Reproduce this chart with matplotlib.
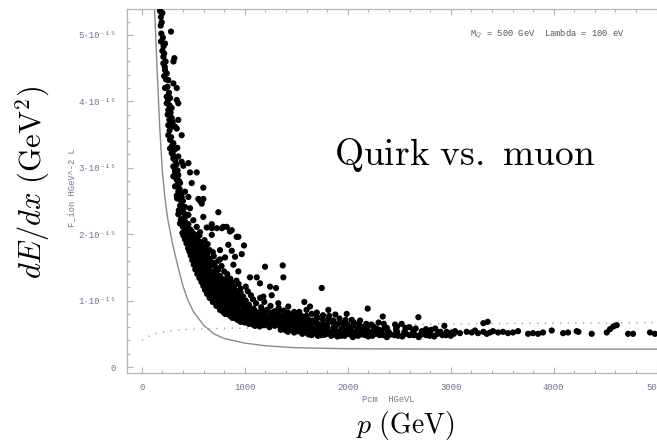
import matplotlib
matplotlib.use("Agg")
import matplotlib.pyplot as plt
from matplotlib.ticker import FixedLocator, MultipleLocator

plt.rcParams['mathtext.fontset'] = 'cm'

# ---------------- data (p in GeV, dE/dx in units of 1e-15 GeV^2) ----------------
quirk_top = [(178,5.36),(200,5.33),(186,5.27),(194,5.19),(184,5.14),(284,5.05),(190,5.02),(205,4.96),
    (187,4.9),(226,4.87),(212,4.83),(200,4.76),(218,4.72),(210,4.67),(317,4.65),(308,4.6),(210,4.57),
    (224,4.52),(232,4.6),(226,4.47),(243,4.42),(218,4.38),(236,4.33),(258,4.32),(307,4.27),(250,4.22),
    (340,4.2),(226,4.2),(265,4.13),(243,4.07),(275,4.05),(255,4.02),(340,4.02),(243,3.97),(355,3.97),
    (270,3.94),(290,3.9),(258,3.87),(280,3.83),(252,3.8),(291,3.75),(268,3.72),(355,3.72),(300,3.69),
    (258,3.64),(323,3.62),(280,3.62)]

quirk_upper = [(291,3.62),(340,3.59),(270,3.56),(388,3.49),(258,3.49),(285,3.46),(275,3.42),(307,3.37),
    (295,3.33),(346,3.3),(275,3.29),(318,3.27),(291,3.22),(305,3.19),(355,3.17),(307,3.14),(325,3.11),
    (388,3.09),(453,3.07),(338,3.05),(404,3.03),(307,3.02),(322,2.98),(348,2.96),(323,2.94),(469,2.93),
    (534,2.93),(355,2.89),(307,2.87),(335,2.85),(340,2.82),(362,2.8),(372,2.77),(485,2.77),(345,2.74),
    (323,2.72),(598,2.7),(368,2.68),(420,2.64),(355,2.64),(385,2.61),(340,2.58),(343,2.54),(388,2.56),
    (453,2.56),(370,2.52),(550,2.53),(598,2.53),(400,2.5),(566,2.5),(583,2.46),(372,2.43),(420,2.41),
    (388,2.42),(469,2.39),(360,2.36),(388,2.34),(410,2.32),(355,2.3),(744,2.33),(453,2.29),(430,2.27),
    (598,2.26),(404,2.24),(380,2.22),(501,2.21),(420,2.19),(372,2.16),(453,2.15),(680,2.15),(440,2.13),
    (534,2.11),(400,2.11),(631,2.1),(728,2.09),(793,2.11),(420,2.06),(470,2.07),(485,2.04),(874,2.06),
    (566,2.03),(395,2.02),(445,2.01),(510,2.0)]

quirk_mid = [(405,1.98),(430,1.97),(455,1.99),(480,1.96),(505,1.97),(530,1.95),(560,1.98),
    (420,1.92),(445,1.9),(470,1.91),(495,1.89),(520,1.92),(548,1.9),(575,1.88),(610,1.91),
    (435,1.86),(460,1.84),(485,1.85),(512,1.83),(540,1.86),(565,1.84),(600,1.82),(640,1.85),
    (450,1.79),(475,1.8),(500,1.78),(528,1.79),(555,1.77),(585,1.8),(620,1.78),(660,1.76),
    (462,1.74),(488,1.72),(515,1.73),(542,1.71),(570,1.74),(600,1.72),(635,1.7),(690,1.73),
    (475,1.68),(500,1.66),(528,1.67),(556,1.65),(585,1.68),(615,1.66),(650,1.64),(700,1.67),(760,1.62),
    (490,1.61),(515,1.59),(540,1.6),(568,1.58),(597,1.61),(628,1.59),(665,1.6),(710,1.57),(745,1.6),
    (505,1.54),(530,1.52),(555,1.53),(582,1.51),(612,1.54),(645,1.52),(680,1.53),(720,1.5),(775,1.52),
    (520,1.47),(545,1.45),(572,1.46),(600,1.44),(630,1.47),(662,1.45),(698,1.43),(740,1.46),(800,1.44),
    (540,1.4),(565,1.41),(592,1.39),(620,1.4),(650,1.38),(685,1.41),(720,1.39),(760,1.37),(830,1.4)]

quirk_knee = [(560,1.34),(585,1.33),(612,1.35),(640,1.32),(668,1.34),(700,1.33),(735,1.31),(770,1.34),
    (810,1.32),(860,1.33),(920,1.3),
    (580,1.28),(605,1.27),(632,1.29),(660,1.26),(690,1.28),(722,1.27),(755,1.25),(790,1.28),(830,1.26),
    (875,1.27),(940,1.25),
    (598,1.22),(622,1.21),(650,1.23),(678,1.2),(708,1.22),(740,1.21),(775,1.19),(812,1.22),(850,1.2),
    (895,1.21),(960,1.18),(1010,1.21),
    (615,1.16),(640,1.15),(668,1.17),(696,1.14),(726,1.16),(758,1.15),(792,1.13),(828,1.16),(868,1.14),
    (910,1.15),(960,1.12),(1030,1.14),
    (635,1.1),(662,1.09),(690,1.11),(718,1.08),(748,1.1),(780,1.09),(815,1.07),(850,1.1),(890,1.08),
    (935,1.09),(985,1.06),(1060,1.08),
    (660,1.04),(688,1.03),(715,1.05),(745,1.02),(775,1.04),(808,1.03),(842,1.01),(878,1.04),(918,1.02),
    (962,1.03),(1010,1.0),(1080,1.02),(1150,1.04),
    (690,0.98),(718,0.97),(746,0.99),(775,0.96),(806,0.98),(838,0.97),(872,0.95),(908,0.98),(948,0.96),
    (992,0.97),(1040,0.94),(1110,0.96),(1190,0.98),
    (725,0.92),(752,0.91),(780,0.93),(810,0.9),(842,0.92),(875,0.91),(910,0.89),(948,0.92),(990,0.9),
    (1035,0.91),(1085,0.88),(1160,0.9),(1250,0.92),(1330,0.89)]

quirk_low = [(760,0.86),(790,0.85),(820,0.87),(852,0.84),(885,0.86),(920,0.85),(958,0.83),(1000,0.86),
    (1045,0.84),(1095,0.85),(1150,0.83),(1215,0.86),(1290,0.84),(1380,0.85),(1480,0.83),(1600,0.86),
    (790,0.83),(835,0.82),(880,0.83),(930,0.82),(980,0.83),(1030,0.82),(1080,0.83),(1130,0.82),
    (1190,0.83),(1250,0.82),(1330,0.83),(1420,0.82),(1530,0.83),(1700,0.82),
    (810,0.8),(842,0.79),(875,0.81),(910,0.78),(948,0.8),(988,0.79),(1030,0.77),(1075,0.8),(1125,0.78),
    (1180,0.79),(1240,0.77),(1305,0.8),(1380,0.78),(1460,0.79),(1550,0.77),(1650,0.8),(1760,0.78),(1880,0.79),
    (860,0.77),(900,0.76),(945,0.77),(990,0.76),(1040,0.77),(1095,0.76),(1150,0.77),(1205,0.76),
    (1270,0.77),(1340,0.76),(1420,0.77),(1500,0.76),(1600,0.77),(1700,0.76),(1820,0.77),
    (880,0.74),(915,0.73),(952,0.75),(990,0.72),(1030,0.74),(1072,0.73),(1118,0.71),(1165,0.74),(1215,0.72),
    (1270,0.73),(1330,0.71),(1395,0.74),(1465,0.72),(1540,0.73),(1620,0.71),(1710,0.74),(1810,0.72),
    (1920,0.73),(2040,0.71),
    (930,0.71),(975,0.7),(1015,0.71),(1060,0.7),(1100,0.71),(1145,0.7),(1190,0.71),(1245,0.7),
    (1300,0.71),(1360,0.7),(1430,0.71),(1500,0.7),(1580,0.71),(1660,0.7),(1760,0.71),(1860,0.7),
    (1980,0.71),(2120,0.7),
    (960,0.68),(1000,0.67),(1042,0.69),(1085,0.66),(1130,0.68),(1178,0.67),(1228,0.65),(1280,0.68),
    (1335,0.66),(1395,0.67),(1460,0.65),(1530,0.68),(1600,0.66),(1680,0.67),(1760,0.65),(1850,0.68),
    (1950,0.66),(2060,0.67),(2180,0.65),(2300,0.67),
    (1040,0.65),(1080,0.64),(1120,0.65),(1165,0.64),(1210,0.65),(1258,0.64),(1310,0.65),(1365,0.64),
    (1425,0.65),(1490,0.64),(1560,0.65),(1630,0.64),(1710,0.65),(1800,0.64),(1900,0.65),(2000,0.64),
    (2110,0.65),(2230,0.64),(2350,0.65),(2460,0.64),
    (1100,0.62),(1145,0.61),(1192,0.63),(1240,0.6),(1292,0.62),(1345,0.61),(1400,0.59),(1460,0.62),
    (1522,0.6),(1588,0.61),(1655,0.59),(1725,0.62),(1800,0.6),(1880,0.61),(1965,0.59),(2055,0.62),
    (2150,0.6),(2250,0.61),(2360,0.59),(2480,0.61),(2600,0.6)]

quirk_floor = [(1500,0.585),(1560,0.59),(1620,0.58),(1700,0.59),(1780,0.58),(1860,0.59),(1940,0.58),
    (2020,0.59),(2100,0.58),(2190,0.59),(2280,0.58),(2380,0.59),(2470,0.58),(2560,0.59),(2660,0.58),
    (2760,0.57),(2850,0.58),
    (1350,0.56),(1400,0.55),(1455,0.57),(1510,0.54),(1568,0.56),(1625,0.55),(1685,0.53),
    (1748,0.56),(1812,0.54),(1878,0.55),(1945,0.53),(2015,0.56),(2088,0.54),(2160,0.55),(2235,0.53),
    (2310,0.56),(2390,0.54),(2470,0.55),(2550,0.53),(2635,0.55),(2720,0.54),(2810,0.56),(2900,0.53),
    (1420,0.53),(1480,0.52),(1540,0.53),(1600,0.52),(1655,0.53),(1715,0.52),(1775,0.53),(1840,0.52),
    (1905,0.53),(1975,0.52),(2045,0.53),(2120,0.52),(2190,0.53),(2260,0.52),(2330,0.53),(2400,0.52),
    (2480,0.53),(2560,0.52),(2640,0.53),(2720,0.52),(2800,0.53),(2880,0.52),(2960,0.53),
    (1560,0.5),(1620,0.49),(1680,0.51),(1742,0.48),(1805,0.5),(1870,0.49),(1935,0.47),(2000,0.5),
    (2068,0.48),(2135,0.49),(2205,0.47),(2275,0.5),(2345,0.48),(2418,0.49),(2490,0.47),(2565,0.5),
    (2640,0.48),(2715,0.49),(2795,0.47),(2875,0.5),(2955,0.48),(3030,0.5),
    (1650,0.48),(1710,0.47),(1775,0.485),(1840,0.47),(1905,0.48),(1970,0.47),(2035,0.48),(2100,0.47),
    (2170,0.48),(2240,0.47),(2310,0.48),(2385,0.47),(2455,0.48),(2530,0.47),(2600,0.48),(2680,0.47),
    (2760,0.48),(2840,0.47),(2920,0.48),(3000,0.47),
    (1900,0.46),(2050,0.45),(2200,0.46),(2380,0.45),(2530,0.46),(2690,0.45),(2840,0.46)]

quirk_tail = [(3010,0.52),(3042,0.54),(3090,0.51),(3155,0.53),(3204,0.52),(3236,0.55),(3265,0.51),
    (3317,0.53),(3350,0.5),(3382,0.52),(3411,0.54),(3460,0.52),(3508,0.53),(3556,0.51),(3605,0.52),
    (3654,0.54),(3751,0.5),(3799,0.51),(3848,0.5),(3896,0.52),(3981,0.55),(4091,0.51),(4139,0.52),
    (4223,0.54),(4240,0.53),(4369,0.5),(4515,0.52),(4547,0.57),(4579,0.61),(4612,0.63),(4722,0.5),
    (4770,0.5),(4935,0.52),(4983,0.5)]

quirk_outliers = [(680,2.09),(777,2.09),(857,2.04),(938,1.96),(680,1.99),(841,1.84),(993,1.83),
    (760,1.76),(874,1.75),(971,1.7),(809,1.65),(906,1.66),(890,1.54),(938,1.44),(1051,1.35),(1117,1.35),
    (1148,1.26),(1246,1.21),(1304,1.19),(1262,1.08),(1181,1.06),(1326,0.96),(1423,0.91),(1197,1.51),
    (1369,1.53),(1375,1.35),(1748,1.19),(1579,0.98),(1634,0.91),(2194,0.88),(2340,0.76),(2686,0.75),
    (1990,0.8),(1812,0.86),(2938,0.62),(2524,0.65),(3317,0.66),(3359,0.68),(922,1.96),(825,2.11)]

# solid curve (lower bound) and dotted curve (muon)
curve_p = [118, 130, 150, 175, 200, 225, 250, 300, 350, 400, 450, 500, 600, 700, 800, 1000,
           1200, 1500, 2000, 3000, 4000, 5100]
curve_y = [5.6, 5.2, 4.45, 3.6, 2.95, 2.55, 2.25, 1.85, 1.52, 1.22, 1.0, 0.84, 0.63, 0.5, 0.43, 0.36,
           0.32, 0.29, 0.275, 0.27, 0.27, 0.27]
muon_p = [3, 50, 146, 250, 372, 500, 728, 1000, 1180, 1500, 2000, 2500, 3000, 4000, 5100]
muon_y = [0.40, 0.45, 0.51, 0.54, 0.56, 0.57, 0.58, 0.585, 0.59, 0.61, 0.63, 0.64, 0.65, 0.66, 0.67]

x_ticks = [0, 1000, 2000, 3000, 4000, 5000]
y_ticks = [0, 1, 2, 3, 4, 5]
y_tick_labels = ["0", "1·10⁻¹⁵", "2·10⁻¹⁵", "3·10⁻¹⁵", "4·10⁻¹⁵", "5·10⁻¹⁵"]

# ---------------- figure ----------------
W, H = 657, 443
fig = plt.figure(figsize=(W / 100, H / 100), dpi=100)
fig.patch.set_facecolor('white')
ax = fig.add_axes([127 / W, 70 / H, 530 / W, 364 / H])
ax.set_xlim(-143, 5003)
ax.set_ylim(-0.09, 5.39)

frame_col = '#b4b4b4'
for side in ['left', 'bottom', 'top']:
    ax.spines[side].set_color(frame_col)
    ax.spines[side].set_linewidth(0.9)
ax.spines['right'].set_visible(False)

tick_col = '#6c7690'
mono = ['Liberation Mono', 'DejaVu Sans Mono']
ax.xaxis.set_major_locator(FixedLocator(x_ticks))
ax.xaxis.set_minor_locator(MultipleLocator(200))
ax.yaxis.set_major_locator(FixedLocator(y_ticks))
ax.yaxis.set_minor_locator(MultipleLocator(0.2))
ax.set_xticklabels([str(v) for v in x_ticks])
ax.set_yticklabels(y_tick_labels)
ax.tick_params(axis='both', which='both', direction='in', color=frame_col, width=0.8,
               top=True, right=False, labelcolor=tick_col, labelsize=6.5)
ax.tick_params(axis='both', which='major', length=4.5)
ax.tick_params(axis='both', which='minor', length=2.5)
ax.tick_params(axis='x', pad=7)
ax.tick_params(axis='y', pad=8)
for lab in ax.get_xticklabels() + ax.get_yticklabels():
    lab.set_family(mono)

# curves
ax.plot(curve_p, curve_y, color='#8a8a8a', lw=1.0, zorder=2)
ax.plot(muon_p, muon_y, color='#a0a0a0', lw=1.1, linestyle=(0, (0.8, 4.2)), zorder=2)

# scatter
for seg in [quirk_top, quirk_upper, quirk_mid, quirk_knee, quirk_low, quirk_floor, quirk_tail,
            quirk_outliers]:
    ps = [a for a, b in seg]
    ys = [b for a, b in seg]
    ax.scatter(ps, ys, s=20, c='black', edgecolors='none', zorder=3)

# small Mathematica texts
def fpx(x, y):
    return x / W, 1 - y / H

fig.text(*fpx(470, 34), "M$_Q$ = 500 GeV  Lambda = 100 eV", family=mono, fontsize=6.3,
         color='#4e5566', ha='left', va='center')
fig.text(*fpx(72, 188), "F_ion HGeV^-2 L", family=mono, fontsize=6.3, color=tick_col,
         rotation=90, ha='center', va='center')
fig.text(*fpx(388, 400), "Pcm  HGeVL", family=mono, fontsize=6.3, color=tick_col,
         ha='center', va='center')

# large LaTeX-style labels
fig.text(*fpx(33, 182), r"$dE/dx\ (\mathrm{GeV}^2)$", fontsize=22, rotation=90,
         ha='center', va='center', color='black')
fig.text(*fpx(405, 425), r"$p\ (\mathrm{GeV})$", fontsize=20, ha='center', va='center', color='black')
fig.text(*fpx(465, 155), r"$\mathrm{Quirk\ vs.\ muon}$", fontsize=27, ha='center', va='center',
         color='black')

fig.savefig("out.png", dpi=100, facecolor='white')
